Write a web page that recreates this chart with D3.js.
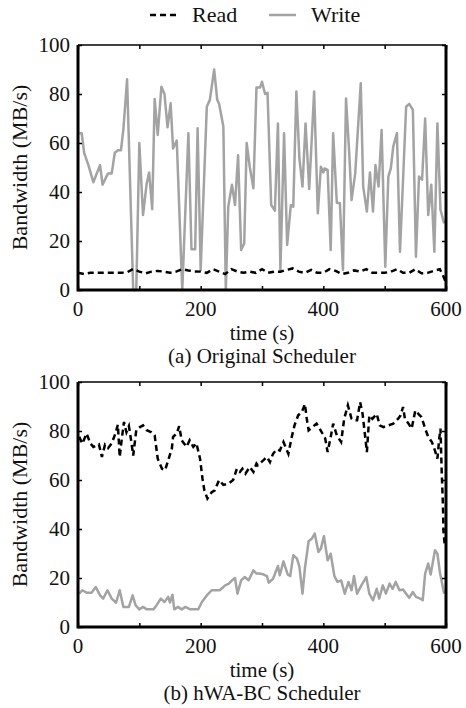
<!DOCTYPE html>
<html>
<head>
<meta charset="utf-8">
<script src="https://cdn.jsdelivr.net/npm/d3@7"></script>
<style>
  body { margin: 0; background: #fff; }
</style>
</head>
<body>
<div id="chart"></div>
<script>
// time (s), bandwidth (MB/s)
const origWrite = [[2,64],[6,64],[10,56],[17,51],[25,44],[36,51],[40,43],[49,47.6],[55,47.6],[60,56],[65,57],[70,57],[74,65.6],[80,86],[90,0],[95,0],[100,60],[106,30.6],[112,43.5],[116,48],[121,33],[125,78],[130,63.3],[136,83],[141,80],[146,66.4],[151,76.2],[155,57.8],[161,61],[170,0],[180,64],[185,16.6],[191,16.6],[195,66],[200,8.2],[210,74.8],[215,77.6],[222,90],[227,77.6],[230,76],[237,66.7],[241,0],[245,34],[251,43],[256,34.7],[261,55],[266,16.3],[271,19],[275,60],[280,50.3],[286,41.5],[291,82.7],[297,82.7],[300,85],[305,80],[309,80.5],[315,34.7],[321,32.4],[326,68],[330,8.2],[336,64],[341,18.4],[347,34.7],[351,34],[356,81],[361,53.7],[366,42.2],[371,68],[377,41.2],[385,81],[391,31.3],[396,50.3],[400,48],[402,49.6],[407,49],[412,16.3],[416,64],[422,35.6],[427,35.4],[432,8.2],[437,78.2],[442,57],[446,36.7],[452,47.6],[461,84.4],[465,42.2],[471,32],[476,48],[481,32],[485,51],[490,42.2],[495,65.3],[501,9.5],[506,46.3],[510,49.6],[514,58.5],[520,64],[525,15.6],[535,74.8],[540,76],[546,73.5],[551,13.6],[556,46.3],[561,45],[566,70],[571,30.6],[576,43],[581,15.6],[586,68],[591,32.7],[597,27.2]];

const origRead = [[0,7],[10,6.5],[20,7],[30,7],[40,7],[50,7],[60,7],[70,7],[80,7.2],[90,8.6],[100,7.5],[110,6.8],[120,7.5],[130,7.8],[140,7.5],[150,7],[160,7.5],[170,8.5],[180,8],[190,7.6],[200,7.5],[210,7],[220,8.5],[230,7.5],[240,6.5],[250,8.5],[260,7.5],[270,7],[280,7.5],[290,7],[300,8.5],[310,7],[320,7.5],[330,7.5],[340,8.2],[350,8.8],[360,7.5],[370,7],[380,8.2],[390,7],[400,7],[410,8.5],[420,7.8],[430,6.5],[440,7],[450,8],[460,7.5],[470,8.5],[480,7],[490,7],[500,7],[510,7.5],[520,8.5],[530,7],[540,7],[550,8.5],[560,6.8],[570,7],[580,7.8],[590,8.5],[595,6],[600,3]];

const hwaRead = [[2,77.6],[7,74.8],[14,79],[20,75],[25,73.5],[34,74.6],[39,69.4],[44,74.4],[49,73],[55,75],[61,79],[65,82.6],[68,69.4],[71,76],[75,83.7],[79,79.5],[83,82],[87,75.5],[90,70],[95,80.3],[101,81.6],[106,82.3],[112,80.3],[119,79.6],[125,78.2],[130,68.7],[137,64.6],[142,64],[147,68],[153,72.8],[155,77.6],[161,79],[165,82],[169,76.2],[177,73.5],[182,76.2],[188,73.5],[193,75],[199,68.7],[203,60.5],[206,55.8],[211,52.4],[218,55],[223,55.8],[230,60],[237,58],[245,58.5],[253,60],[259,64.6],[264,63.3],[268,64.6],[273,62.6],[280,65.3],[286,63.3],[291,66.7],[293,66],[302,68],[308,69.4],[313,67.3],[318,70.7],[324,72.5],[329,72],[335,75.5],[343,70.7],[348,77],[353,82.3],[359,86.4],[365,87.8],[370,91],[373,85],[376,80.3],[382,81.6],[389,83],[394,81],[403,77],[407,71.4],[412,77.5],[416,83],[422,78.2],[429,75.5],[434,85],[440,90.5],[446,85],[449,84.4],[455,84.4],[460,91.8],[464,87],[468,78.2],[471,71.4],[475,86.4],[480,85],[487,87],[492,82.3],[498,81.6],[506,82.3],[514,83],[522,85],[526,86.4],[530,89.8],[533,85],[539,83],[544,81],[550,88.4],[555,87],[560,85.7],[566,81],[571,77.6],[577,75.5],[582,72],[586,68.7],[589,77],[591,81],[593,63.3],[595,49.7],[596,38.8],[598,33.3]];

const hwaWrite = [[2,13.6],[7,15],[14,14],[22,14],[29,16.3],[36,12.9],[41,11.6],[48,15],[55,11.6],[62,9.9],[68,15],[74,8.2],[83,8.2],[89,12.9],[94,8.8],[100,7.2],[106,8.2],[112,7.2],[123,7.2],[128,8.8],[135,11.6],[141,10.2],[147,12.3],[150,10],[154,13.2],[157,7.2],[163,8.2],[169,7.2],[175,8.2],[183,7.2],[196,7.2],[202,10.2],[210,12.9],[218,15],[231,15],[240,17],[246,17.7],[251,19],[256,20],[260,13.6],[266,19],[272,20.4],[278,19],[286,23.1],[291,21.8],[295,21.8],[302,21.5],[308,20.8],[311,18.1],[318,19.7],[326,24.9],[329,21.1],[335,26.8],[342,21.4],[346,20.8],[351,29.3],[357,27.9],[361,24.5],[366,13.6],[370,24],[376,35],[381,36],[386,38.1],[392,30.6],[396,32],[401,37.1],[407,27.2],[412,29.9],[418,20.8],[423,18.4],[429,19],[435,13.6],[441,18.4],[446,15],[450,20.8],[455,13.6],[462,17],[470,20.4],[475,13.6],[481,10.9],[487,15.6],[491,11.6],[497,17],[502,13.6],[508,17.7],[513,15.6],[518,18.4],[524,15],[530,15.3],[535,13.6],[540,11.9],[546,14.3],[551,12.3],[558,11.6],[562,10.9],[566,21.8],[571,25.9],[575,21.4],[582,31.3],[586,29.9],[590,22.4],[597,13.6]];

const xTicks = [0, 100, 200, 300, 400, 500, 600];
const xLabels = [0, 200, 400, 600];
const yTicks = [0, 20, 40, 60, 80, 100];
const seriesNames = ["Read", "Write"];
const captions = ["(a) Original Scheduler", "(b) hWA-BC Scheduler"];

const W = 466, H = 708;
const readColor = "#000", writeColor = "#a3a3a3";
const font = "'Liberation Serif', 'DejaVu Serif', serif";

const svg = d3.select("#chart").append("svg")
  .attr("width", W).attr("height", H)
  .attr("font-family", font).attr("fill", "#111");

// legend
const leg = svg.append("g");
leg.append("line").attr("x1", 150).attr("x2", 180).attr("y1", 15).attr("y2", 15)
  .attr("stroke", readColor).attr("stroke-width", 2.5).attr("stroke-dasharray", "6,4");
leg.append("text").attr("x", 192).attr("y", 22).attr("font-size", 22).text(seriesNames[0]);
leg.append("line").attr("x1", 269).attr("x2", 296).attr("y1", 15).attr("y2", 15)
  .attr("stroke", writeColor).attr("stroke-width", 2.5);
leg.append("text").attr("x", 311).attr("y", 22).attr("font-size", 22).text(seriesNames[1]);

function panel(top, read, write, caption)
{
  const left = 78, right = 446, bottom = top + 245;
  const x = d3.scaleLinear().domain([0, 600]).range([left, right]);
  const y = d3.scaleLinear().domain([0, 100]).range([bottom, top]);
  const g = svg.append("g");

  const line = d3.line().x(d => x(d[0])).y(d => y(d[1]));

  g.append("path").datum(write).attr("d", line)
    .attr("fill", "none").attr("stroke", writeColor).attr("stroke-width", 2.5)
    .attr("stroke-linejoin", "round");
  g.append("path").datum(read).attr("d", line)
    .attr("fill", "none").attr("stroke", readColor).attr("stroke-width", 2.5)
    .attr("stroke-dasharray", "6,4");

  // ticks, inside, mirrored
  g.append("g").attr("transform", `translate(0,${bottom})`)
    .call(d3.axisBottom(x).tickValues(xTicks).tickSize(-4).tickFormat(""))
    .call(a => a.select(".domain").remove());
  g.append("g").attr("transform", `translate(0,${top})`)
    .call(d3.axisTop(x).tickValues(xTicks).tickSize(-4).tickFormat(""))
    .call(a => a.select(".domain").remove());
  g.append("g").attr("transform", `translate(${left},0)`)
    .call(d3.axisLeft(y).tickValues(yTicks).tickSize(-4).tickFormat(""))
    .call(a => a.select(".domain").remove());
  g.append("g").attr("transform", `translate(${right},0)`)
    .call(d3.axisRight(y).tickValues(yTicks).tickSize(-4).tickFormat(""))
    .call(a => a.select(".domain").remove());
  g.selectAll(".tick line").attr("stroke", "#000").attr("stroke-width", 1.5);

  // frame
  g.append("line").attr("x1", left).attr("x2", right).attr("y1", top).attr("y2", top)
    .attr("stroke", "#000").attr("stroke-width", 1.5);
  g.append("path")
    .attr("d", `M${left},${top}V${bottom}H${right}V${top}`)
    .attr("fill", "none").attr("stroke", "#000").attr("stroke-width", 3);

  // labels
  g.selectAll(".ylab").data(yTicks).enter().append("text")
    .attr("x", 70).attr("y", d => y(d) + 7)
    .attr("text-anchor", "end").attr("font-size", 21).text(d => d);
  g.selectAll(".xlab").data(xLabels).enter().append("text")
    .attr("x", d => x(d)).attr("y", bottom + 26)
    .attr("text-anchor", "middle").attr("font-size", 21).text(d => d);

  g.append("text").attr("x", (left + right) / 2).attr("y", bottom + 49.5)
    .attr("text-anchor", "middle").attr("font-size", 21).text("time (s)");
  g.append("text").attr("x", (left + right) / 2).attr("y", bottom + 73)
    .attr("text-anchor", "middle").attr("font-size", 21).text(caption);

  g.append("text")
    .attr("transform", `translate(27,${(top + bottom) / 2}) rotate(-90)`)
    .attr("text-anchor", "middle").attr("font-size", 22).text("Bandwidth (MB/s)");
}

panel(45, origRead, origWrite, captions[0]);
panel(382, hwaRead, hwaWrite, captions[1]);
</script>
</body>
</html>
